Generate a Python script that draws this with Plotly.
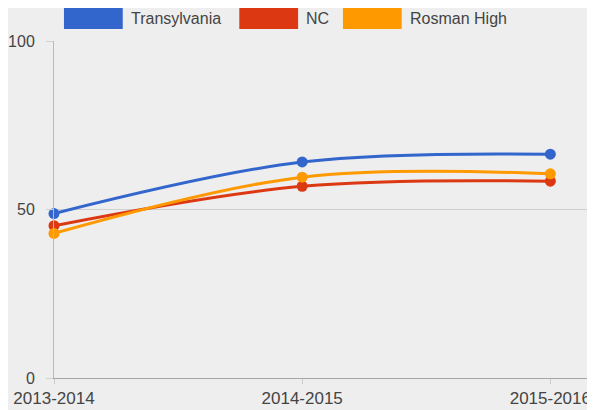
import plotly.graph_objects as go

categories = ["2013-2014", "2014-2015", "2015-2016"]
transylvania = [48.8, 64.1, 66.4]
nc = [45.2, 56.9, 58.4]
rosman_high = [42.9, 59.6, 60.6]
series_names = ["Transylvania", "NC", "Rosman High"]
series_values = [transylvania, nc, rosman_high]
colors = ["#3366cc", "#dc3912", "#ff9900"]
y_ticks = [0, 50, 100]

# the page body has an 8px margin, so the figure is drawn 8px in from the window corner
OFF = 8
W, H = 595 - OFF, 410 - OFF
ML, MR, MT, MB = 52 - OFF, 0, 41 - OFF, 32
PW, PH = W - ML - MR, H - MT - MB
FONT = "Arial, 'Liberation Sans', sans-serif"

fig = go.Figure()
for name, vals, col in zip(series_names, series_values, colors):
    fig.add_trace(go.Scatter(
        x=categories, y=vals, name=name, mode="lines+markers",
        line=dict(color=col, width=3, shape="spline", smoothing=1.0),
        marker=dict(color=col, size=11),
        cliponaxis=False, showlegend=False,
    ))

def px2x(px):  # window pixel -> paper
    return (px - OFF - ML) / PW

def py2y(py):
    return (H - MB - (py - OFF)) / PH

# custom legend matching Google Charts style
rect_x0 = [62, 238, 342]
rect_w = 59
for x0, name, col in zip(rect_x0, series_names, colors):
    fig.add_shape(type="rect", xref="paper", yref="paper",
                  x0=px2x(x0), x1=px2x(x0 + rect_w), y0=py2y(29), y1=py2y(8),
                  fillcolor=col, line=dict(width=0), layer="above")
    fig.add_annotation(xref="paper", yref="paper", x=px2x(x0 + rect_w + 6), y=py2y(18.5),
                       text=name, showarrow=False, xanchor="left", yanchor="middle",
                       font=dict(family=FONT, size=16, color="#444444"))

fig.update_layout(
    width=W, height=H,
    margin=dict(l=ML, r=MR, t=MT, b=MB, pad=0),
    paper_bgcolor="#eeeeee", plot_bgcolor="#eeeeee",
    font=dict(family=FONT, size=16, color="#444444"),
    xaxis=dict(type="category", range=[0, 2.18], showgrid=False,
               showline=True, linecolor="#a6a6a6", linewidth=1,
               ticks="outside", ticklen=5, tickcolor="#cccccc",
               tickfont=dict(size=17, color="#444444"), zeroline=False, fixedrange=True),
    yaxis=dict(range=[0, 100], tickvals=y_ticks, showgrid=True, gridcolor="#d0d0d0",
               showline=True, linecolor="#bbbbbb", linewidth=1,
               ticks="outside", ticklen=7, tickcolor="#d0d0d0",
               ticklabelstandoff=8,
               tickfont=dict(size=16, color="#444444"), zeroline=False),
)

fig.write_html("out.html")
